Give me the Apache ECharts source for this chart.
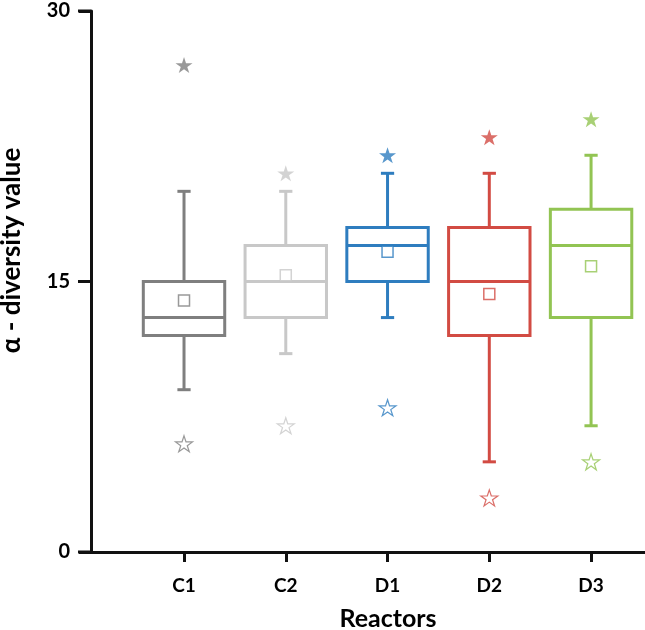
<!DOCTYPE html>
<html>
<head>
<meta charset="utf-8">
<script src="https://cdn.jsdelivr.net/npm/echarts@6/dist/echarts.min.js"></script>
<style>
html,body{margin:0;padding:0;background:#fff;}
#chart{width:645px;height:630px;}
</style>
</head>
<body>
<div id="chart"></div>
<script>
const categories = ['C1', 'C2', 'D1', 'D2', 'D3'];
const whiskerLow = [9, 11, 13, 5, 7];
const q1 = [12, 13, 15, 12, 13];
const median = [13, 15, 17, 15, 17];
const q3 = [15, 17, 18, 18, 19];
const whiskerHigh = [20, 20, 21, 21, 22];
const means = [13.95, 15.35, 16.65, 14.3, 15.85];
const maxPoints = [27, 21, 22, 23, 24];
const minPoints = [6, 7, 8, 3, 5];
const yTicks = [0, 15, 30];
const colors = ['#7f7f7f', '#c8c8c8', '#2e7dbf', '#d24b43', '#92c453'];

const X_MIN = 0.086;
const X_MAX = 5.53;
const positions = categories.map((c, i) => i + 1);
const boxData = categories.map((c, i) => [positions[i], whiskerLow[i], q1[i], median[i], q3[i], whiskerHigh[i]]);
const starPath = 'path://M50,0 L61.2,34.5 L97.6,34.5 L68.2,55.9 L79.4,90.5 L50,69.1 L20.6,90.5 L31.8,55.9 L2.4,34.5 L38.8,34.5 Z';
const FONT = 'Lato';

const chart = echarts.init(document.getElementById('chart'), null, {renderer: 'canvas'});

function renderBox(params, api) {
  const i = params.dataIndex;
  const x = api.value(0);
  const pLow = api.coord([x, api.value(1)]);
  const pQ1 = api.coord([x, api.value(2)]);
  const pMed = api.coord([x, api.value(3)]);
  const pQ3 = api.coord([x, api.value(4)]);
  const pHigh = api.coord([x, api.value(5)]);
  const w = api.size([0.8, 0])[0];
  const cap = api.size([0.13, 0])[0];
  const cx = pMed[0];
  const style = {stroke: colors[i], lineWidth: 3, fill: null};
  return {
    type: 'group',
    children: [
      {type: 'line', shape: {x1: cx, y1: pLow[1], x2: cx, y2: pQ1[1]}, style: style},
      {type: 'line', shape: {x1: cx, y1: pQ3[1], x2: cx, y2: pHigh[1]}, style: style},
      {type: 'line', shape: {x1: cx - cap / 2, y1: pLow[1], x2: cx + cap / 2, y2: pLow[1]}, style: style},
      {type: 'line', shape: {x1: cx - cap / 2, y1: pHigh[1], x2: cx + cap / 2, y2: pHigh[1]}, style: style},
      {type: 'rect', shape: {x: cx - w / 2, y: pQ3[1], width: w, height: pQ1[1] - pQ3[1]}, style: {stroke: colors[i], lineWidth: 3, fill: 'rgba(0,0,0,0)'}},
      {type: 'line', shape: {x1: cx - w / 2, y1: pMed[1], x2: cx + w / 2, y2: pMed[1]}, style: style}
    ]
  };
}

function renderYTick(params, api) {
  const p = api.coord([api.value(0), api.value(1)]);
  return {
    type: 'rect',
    shape: {x: p[0] - 13, y: p[1] - 1.5, width: 13, height: 3},
    style: {fill: '#111'}
  };
}

const option = {
  animation: false,
  backgroundColor: '#fff',
  grid: {left: 91, right: 0, top: 11, bottom: 78, containLabel: false, outerBoundsMode: 'none'},
  xAxis: {
    type: 'value',
    min: X_MIN,
    max: X_MAX,
    name: 'Reactors',
    nameLocation: 'middle',
    nameGap: 54,
    nameTextStyle: {fontFamily: FONT, fontWeight: 'bold', fontSize: 25, color: '#000', padding: [0, 0, 0, 40]},
    splitLine: {show: false},
    axisLine: {show: true, onZero: false, lineStyle: {color: '#111', width: 3}},
    axisTick: {show: true, customValues: positions, length: 10, lineStyle: {color: '#111', width: 3}},
    axisLabel: {
      customValues: positions,
      formatter: v => categories[Math.round(v) - 1] || '',
      fontFamily: FONT, fontWeight: 'bold', fontSize: 19, color: '#000', margin: 24
    }
  },
  yAxis: {
    type: 'value',
    min: 0,
    max: 30,
    splitNumber: 2,
    name: 'α - diversity value',
    nameLocation: 'middle',
    nameGap: 66,
    nameTextStyle: {fontFamily: FONT, fontWeight: 'bold', fontSize: 26, color: '#000', padding: [0, 0, 0, 62]},
    splitLine: {show: false},
    axisLine: {show: true, onZero: false, lineStyle: {color: '#111', width: 3}},
    axisTick: {show: true, inside: false, customValues: yTicks, length: 12, lineStyle: {color: '#111', width: 3}},
    axisLabel: {
      customValues: yTicks,
      fontFamily: FONT, fontWeight: 'bold', fontSize: 20, color: '#000', margin: 21
    }
  },
  series: [
    {
      type: 'custom',
      name: 'yTicks',
      renderItem: renderYTick,
      encode: {x: 0, y: 1},
      data: yTicks.map(v => [X_MIN, v]),
      clip: false,
      silent: true,
      z: 5
    },
    {
      type: 'custom',
      name: 'box',
      renderItem: renderBox,
      encode: {x: 0, y: [1, 2, 3, 4, 5]},
      data: boxData,
      z: 2
    },
    {
      type: 'scatter',
      name: 'mean',
      symbol: 'rect',
      symbolSize: 11,
      data: means.map((m, i) => ({value: [positions[i], m], itemStyle: {color: '#fff', borderColor: colors[i], borderWidth: 1.5}})),
      z: 3
    },
    {
      type: 'scatter',
      name: 'max',
      symbol: starPath,
      symbolSize: [17, 16],
      data: maxPoints.map((m, i) => ({value: [positions[i], m], itemStyle: {color: colors[i]}})),
      z: 3
    },
    {
      type: 'scatter',
      name: 'min',
      symbol: starPath,
      symbolSize: [17, 16],
      data: minPoints.map((m, i) => ({value: [positions[i], m], itemStyle: {color: '#fff', borderColor: colors[i], borderWidth: 1.2}})),
      z: 3
    }
  ]
};
chart.setOption(option);
</script>
</body>
</html>
